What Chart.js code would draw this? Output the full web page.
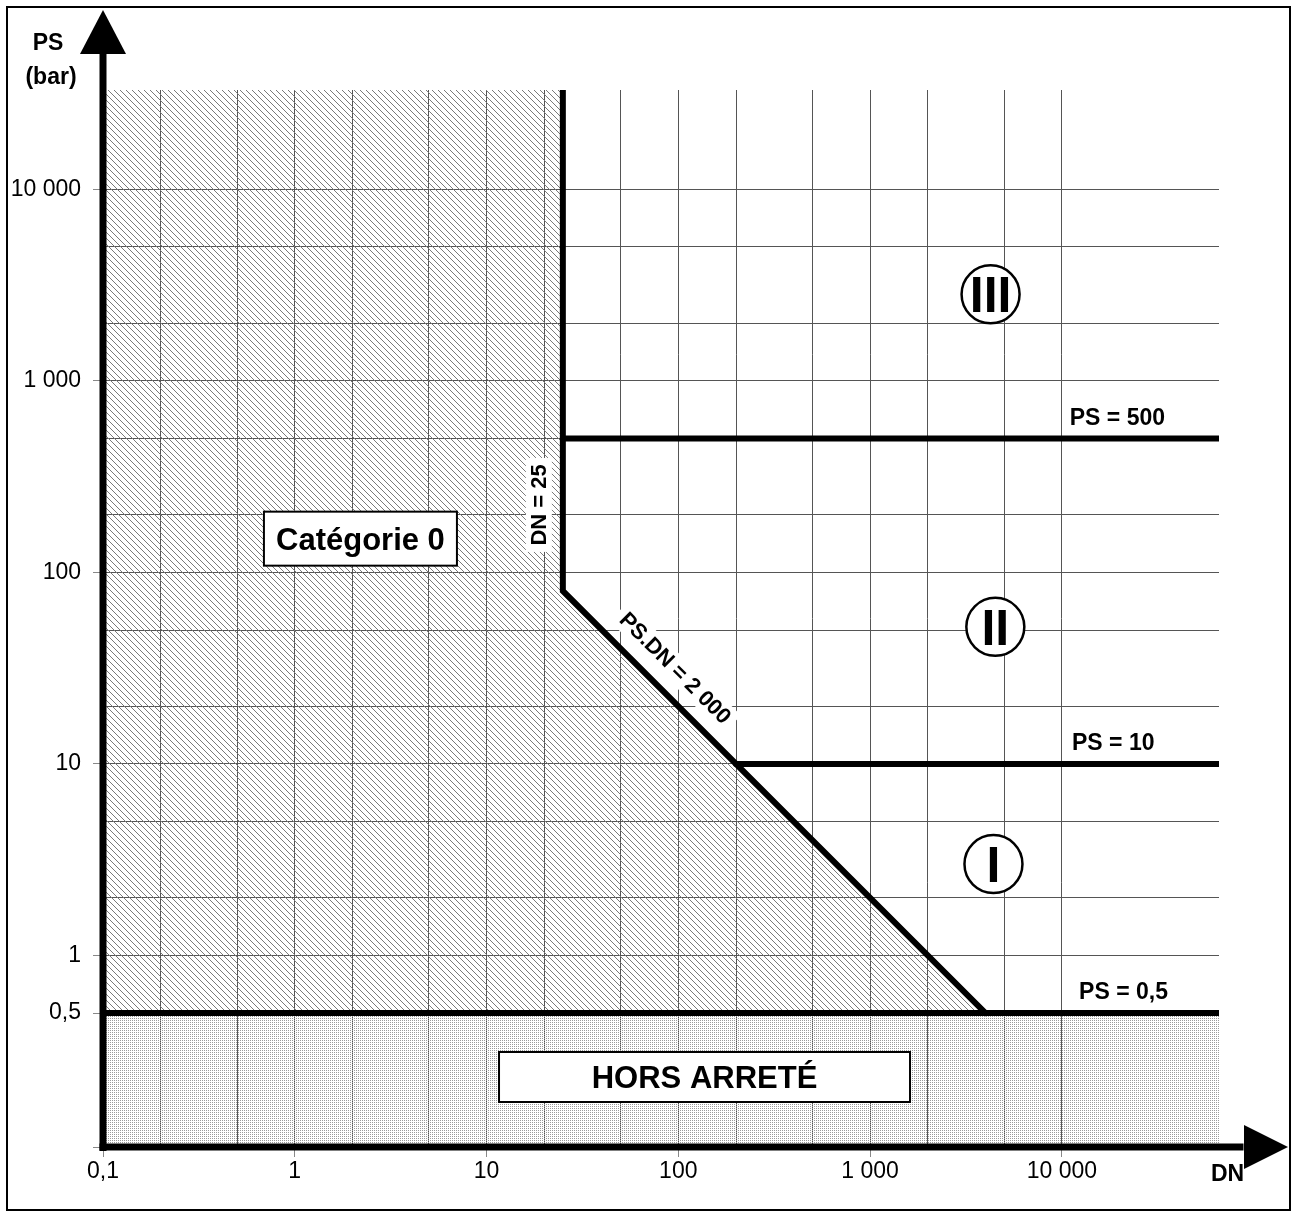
<!DOCTYPE html>
<html lang="fr">
<head>
<meta charset="utf-8">
<title>Catégories PS / DN</title>
<script src="https://cdn.jsdelivr.net/npm/chart.js@4.4.1/dist/chart.umd.min.js"></script>
<style>
  html, body { margin: 0; padding: 0; background: #fff; }
  canvas { display: block; }
</style>
</head>
<body>
<canvas id="chart" width="1294" height="1216"></canvas>
<script>
// bornes des axes (log)
const DN_MIN = 0.1, DN_MAX = 66000;
const PS_MIN = 0.1, PS_MAX = 33000;

// quadrillage et graduations
const dnGrid = [0.1, 0.2, 0.5, 1, 2, 5, 10, 20, 50, 100, 200, 500, 1000, 2000, 5000, 10000];
const dnTickValues = [0.1, 1, 10, 100, 1000, 10000];
const dnTickLabels = ['0,1', '1', '10', '100', '1 000', '10 000'];

const psGrid = [0.1, 0.5, 1, 2, 5, 10, 20, 50, 100, 200, 500, 1000, 2000, 5000, 10000];
const psTickValues = [0.5, 1, 10, 100, 1000, 10000];
const psTickLabels = ['0,5', '1', '10', '100', '1 000', '10 000'];

// zone catégorie 0 (hachurée) : DN = 25 puis PS.DN = 2 000 jusqu'à PS = 0,5
const cat0DN = [0.1, 25, 25, 4000];
const cat0PS = [PS_MAX, PS_MAX, 80, 0.5];

// traits forts
const limitDN = [25, 25, 4000];
const limitPS = [PS_MAX, 80, 0.5];
const ps500DN = [25, DN_MAX];
const ps500PS = [500, 500];
const ps10DN = [200, DN_MAX];
const ps10PS = [10, 10];
const ps05DN = [0.1, DN_MAX];
const ps05PS = [0.5, 0.5];

// étiquettes
const lineLabelText = ['PS = 500', 'PS = 10', 'PS = 0,5'];
const lineLabelDN = [11000, 11300, 12300];
const lineLabelPS = [500, 10, 0.5];

const boxText = ['Catégorie 0', 'HORS ARRETÉ'];
const boxDN = [2.2, 137];
const boxPS = [150, 0.232];

const zoneText = ['III', 'II', 'I'];
const zoneDN = [4250, 4500, 4400];
const zonePS = [2830, 52, 3];

const dnLimitText = 'DN = 25';
const dnLimitLabelPS = 225;
const diagText = 'PS.DN = 2 000';
const diagLabelDN = 78;
const diagLabelPS = 25.6;

const FONT = "'Liberation Sans', Arial, sans-serif";

const pts = (xs, ys) => xs.map((x, i) => ({ x, y: ys[i] }));

function makeHatch() {
  const c = document.createElement('canvas');
  c.width = 6; c.height = 6;
  const g = c.getContext('2d');
  g.fillStyle = '#7a7a7a';
  for (let i = 0; i < 6; i++) g.fillRect(i, i, 1, 1);
  return g.createPattern(c, 'repeat');
}

function makeDots() {
  const c = document.createElement('canvas');
  c.width = 2; c.height = 2;
  const g = c.getContext('2d');
  g.fillStyle = '#9a9a9a';
  g.fillRect(0, 0, 1, 1);
  return g.createPattern(c, 'repeat');
}

const hatch = makeHatch();
const dots = makeDots();

const thick = { showLine: true, borderColor: '#000', borderWidth: 6, borderCapStyle: 'round', borderJoinStyle: 'miter', pointRadius: 0, fill: false };

const annotations = {
  id: 'annotations',
  afterDatasetsDraw(chart) {
    const { ctx, scales: { x, y } } = chart;
    ctx.save();
    ctx.fillStyle = '#000';

    // PS = ...
    ctx.font = 'bold 23px ' + FONT;
    ctx.textAlign = 'left';
    ctx.textBaseline = 'alphabetic';
    lineLabelText.forEach((t, i) => {
      ctx.fillText(t, x.getPixelForValue(lineLabelDN[i]), y.getPixelForValue(lineLabelPS[i]) - 14);
    });

    // DN = 25 (vertical)
    ctx.font = 'bold 22px ' + FONT;
    const xd = x.getPixelForValue(25) - 24;
    const yd = y.getPixelForValue(dnLimitLabelPS);
    ctx.save();
    ctx.translate(xd, yd);
    ctx.rotate(-Math.PI / 2);
    ctx.fillStyle = '#fff';
    ctx.fillRect(-47, -13, 94, 26);
    ctx.fillStyle = '#000';
    ctx.textAlign = 'center';
    ctx.textBaseline = 'middle';
    ctx.fillText(dnLimitText, 0, 1);
    ctx.restore();

    // PS.DN = 2 000 (oblique)
    const ang = Math.atan2(y.getPixelForValue(0.5) - y.getPixelForValue(80), x.getPixelForValue(4000) - x.getPixelForValue(25));
    ctx.save();
    ctx.translate(x.getPixelForValue(diagLabelDN), y.getPixelForValue(diagLabelPS));
    ctx.rotate(ang);
    ctx.translate(0, -25);
    ctx.fillStyle = '#fff';
    ctx.fillRect(-80, -13, 160, 26);
    ctx.fillStyle = '#000';
    ctx.textAlign = 'center';
    ctx.textBaseline = 'middle';
    ctx.fillText(diagText, 0, 1);
    ctx.restore();

    // cadres
    const boxSize = [[193, 54], [411, 50]];
    ctx.font = 'bold 31px ' + FONT;
    ctx.textAlign = 'center';
    ctx.textBaseline = 'alphabetic';
    boxText.forEach((t, i) => {
      const cx = x.getPixelForValue(boxDN[i]);
      const cy = y.getPixelForValue(boxPS[i]);
      const [w, h] = boxSize[i];
      ctx.fillStyle = '#fff';
      ctx.fillRect(cx - w / 2, cy - h / 2, w, h);
      ctx.lineWidth = 2;
      ctx.strokeStyle = '#000';
      ctx.strokeRect(cx - w / 2, cy - h / 2, w, h);
      ctx.fillStyle = '#000';
      ctx.fillText(t, cx, cy + 11);
    });

    // catégories I, II, III
    ctx.font = 'bold 50px ' + FONT;
    zoneText.forEach((t, i) => {
      const cx = x.getPixelForValue(zoneDN[i]);
      const cy = y.getPixelForValue(zonePS[i]);
      ctx.beginPath();
      ctx.arc(cx, cy, 29, 0, Math.PI * 2);
      ctx.fillStyle = '#fff';
      ctx.fill();
      ctx.lineWidth = 2.5;
      ctx.strokeStyle = '#000';
      ctx.stroke();
      ctx.fillStyle = '#000';
      ctx.fillText(t, cx, cy + 18);
    });
    ctx.restore();
  },
  afterDraw(chart) {
    const { ctx, scales: { x, y } } = chart;
    const x0 = x.getPixelForValue(DN_MIN);
    const y0 = y.getPixelForValue(PS_MIN);
    ctx.save();
    ctx.fillStyle = '#000';
    // axe PS
    ctx.fillRect(x0 - 3.5, 52, 7, y0 + 4 - 52);
    ctx.beginPath();
    ctx.moveTo(x0, 10);
    ctx.lineTo(x0 - 23, 54);
    ctx.lineTo(x0 + 23, 54);
    ctx.closePath();
    ctx.fill();
    // axe DN
    ctx.fillRect(x0 - 3.5, y0 - 3.5, 1247 - x0, 7);
    ctx.beginPath();
    ctx.moveTo(1288, y0);
    ctx.lineTo(1244, y0 - 22);
    ctx.lineTo(1244, y0 + 22);
    ctx.closePath();
    ctx.fill();

    // titres d'axes
    ctx.font = 'bold 23px ' + FONT;
    ctx.textAlign = 'center';
    ctx.textBaseline = 'alphabetic';
    ctx.fillText('PS', 48, 50);
    ctx.fillText('(bar)', 51, 84);
    ctx.textAlign = 'left';
    ctx.fillText('DN', 1211, 1181);

    // cadre extérieur
    ctx.lineWidth = 2;
    ctx.strokeStyle = '#000';
    ctx.strokeRect(7, 7, 1283, 1203);
    ctx.restore();
  }
};

new Chart(document.getElementById('chart'), {
  type: 'scatter',
  data: {
    datasets: [
      Object.assign({ label: 'Limite catégorie 0', data: pts(limitDN, limitPS) }, thick),
      Object.assign({ label: 'PS = 500', data: pts(ps500DN, ps500PS) }, thick),
      Object.assign({ label: 'PS = 10', data: pts(ps10DN, ps10PS) }, thick),
      Object.assign({}, thick, { label: 'PS = 0,5', data: pts(ps05DN, ps05PS), fill: 'start', backgroundColor: dots }),
      { label: 'Catégorie 0', data: pts(cat0DN, cat0PS), showLine: true, borderColor: 'transparent', borderWidth: 1, pointRadius: 0, fill: { value: 0.5 }, backgroundColor: hatch }
    ]
  },
  options: {
    responsive: false,
    devicePixelRatio: 1,
    animation: false,
    layout: { padding: { top: 90, right: 75, left: 0, bottom: 0 } },
    plugins: { legend: { display: false }, tooltip: { enabled: false } },
    scales: {
      x: {
        type: 'logarithmic',
        position: 'bottom',
        min: DN_MIN,
        max: DN_MAX,
        bounds: 'data',
        afterBuildTicks: s => { s.ticks = dnGrid.map(v => ({ value: v })); },
        afterFit: s => { s.height = 69; },
        border: { display: false },
        grid: {
          color: '#555',
          lineWidth: 1,
          tickLength: 10,
          tickColor: c => dnTickValues.includes(c.tick.value) ? '#888' : 'rgba(0,0,0,0)'
        },
        ticks: {
          autoSkip: false,
          maxRotation: 0,
          padding: 1,
          color: '#000',
          font: { family: FONT, size: 23 },
          callback: v => { const i = dnTickValues.indexOf(v); return i >= 0 ? dnTickLabels[i] : ''; }
        }
      },
      y: {
        type: 'logarithmic',
        position: 'left',
        min: PS_MIN,
        max: PS_MAX,
        bounds: 'data',
        afterBuildTicks: s => { s.ticks = psGrid.map(v => ({ value: v })); },
        afterFit: s => { s.width = 103; },
        border: { display: false },
        grid: {
          color: c => c.tick.value === PS_MIN ? 'rgba(0,0,0,0)' : '#555',
          lineWidth: 1,
          tickLength: 10,
          tickColor: c => (psTickValues.includes(c.tick.value) || c.tick.value === PS_MIN) ? '#888' : 'rgba(0,0,0,0)'
        },
        ticks: {
          autoSkip: false,
          padding: 12,
          color: '#000',
          font: { family: FONT, size: 23 },
          callback: v => { const i = psTickValues.indexOf(v); return i >= 0 ? psTickLabels[i] : ''; }
        }
      }
    }
  },
  plugins: [annotations]
});
</script>
</body>
</html>
